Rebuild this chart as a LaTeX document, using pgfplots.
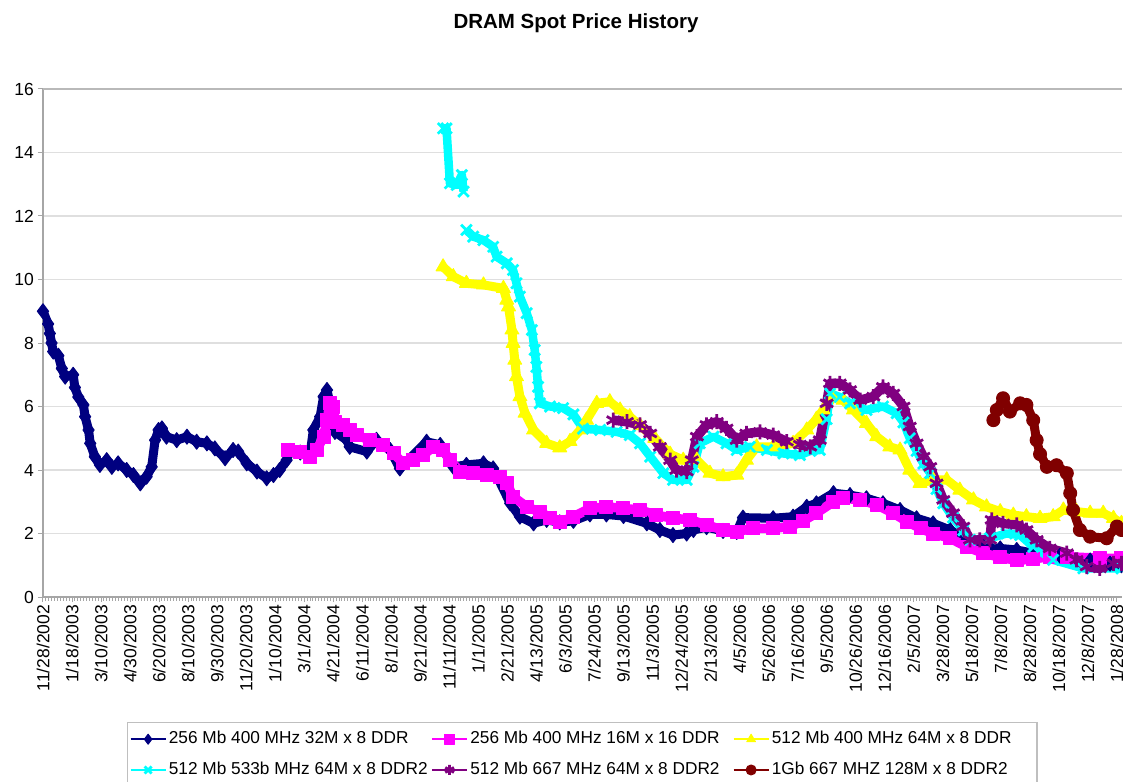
\documentclass[border=0pt]{standalone}
\usepackage{pgfplots}
\pgfplotsset{compat=1.18}
\usepackage{fontspec}
\setmainfont{Liberation Sans}
\definecolor{cNavy}{RGB}{0,0,128}
\definecolor{cMag}{RGB}{255,0,255}
\definecolor{cYel}{RGB}{255,255,0}
\definecolor{cCya}{RGB}{0,255,255}
\definecolor{cPur}{RGB}{128,0,128}
\definecolor{cBro}{RGB}{128,0,0}
\begin{document}
\begin{tikzpicture}
\path[use as bounding box] (-17.2pt,-74pt) rectangle (432pt,238.8pt);
\begin{axis}[
  scale only axis, width=431.6pt, height=203.2pt,
  xmin=0, xmax=1896, ymin=0, ymax=16,
  ytick={0,2,4,6,8,10,12,14,16},
  xtick={0,51,102,153,204,255,306,357,408,459,510,561,612,663,714,765,816,867,918,969,1020,1071,1122,1173,1224,1275,1326,1377,1428,1479,1530,1581,1632,1683,1734,1785,1836,1887},
  xticklabels={11/28/2002,1/18/2003,3/10/2003,4/30/2003,6/20/2003,8/10/2003,9/30/2003,11/20/2003,1/10/2004,3/1/2004,4/21/2004,6/11/2004,8/1/2004,9/21/2004,11/11/2004,1/1/2005,2/21/2005,4/13/2005,6/3/2005,7/24/2005,9/13/2005,11/3/2005,12/24/2005,2/13/2006,4/5/2006,5/26/2006,7/16/2006,9/5/2006,10/26/2006,12/16/2006,2/5/2007,3/28/2007,5/18/2007,7/8/2007,8/28/2007,10/18/2007,12/8/2007,1/28/2008},
  minor x tick num=9,
  axis x line*=bottom, axis y line*=left,
  axis line style={gray!70, line width=1pt},
  ymajorgrids, grid style={gray!25, line width=0.6pt},
  extra y ticks={16}, extra y tick labels={},
  extra y tick style={grid style={gray!55, line width=0.8pt}},
  tick align=outside, major tick length=2pt, minor tick length=1.5pt,
  every tick/.style={gray!70, line width=0.4pt},
  tick label style={font=\fontsize{7}{8}\selectfont},
  xticklabel style={rotate=90, anchor=east, inner sep=1pt},
  yticklabel style={inner sep=1.5pt},
  /pgf/number format/assume math mode=true,
  unbounded coords=jump,
  title={DRAM Spot Price History},
  title style={at={(0.5,1)}, anchor=center, yshift=20.4pt, xshift=-2.6pt, font=\bfseries\fontsize{8.2}{10}\selectfont},
  legend columns=3,
  legend style={at={(0.0776,-0.2455)}, anchor=north west, draw=gray!50, line width=0.5pt,
    font=\fontsize{6.9}{8}\selectfont, inner xsep=1pt, inner ysep=2.5pt, row sep=3.8pt,
    nodes={inner sep=1pt, text height=5pt, text depth=1.5pt}},
  legend image code/.code={\draw[mark repeat=2,mark phase=2] plot coordinates {(0pt,0pt) (7pt,0pt) (14pt,0pt)};},
  legend image post style={line width=0.6pt, mark size=2pt},
  legend cell align=left,
]
\addplot[cNavy, line width=3.6pt, line join=round, mark=diamond*, mark size=3pt, mark options={solid, line width=0.4pt, fill=cNavy}] coordinates {
(0,9.0)(9,8.6)(12,8.3)(15,8.0)(18,7.73)(27,7.6)(33,7.2)(39,6.94)(53,7.0)(56,6.6)(62,6.3)(71,6.05)(74,5.68)(80,5.26)(83,4.84)(91,4.42)(100,4.16)(112,4.31)(121,4.1)(132,4.21)(147,4.0)(159,3.84)(171,3.58)(182,3.79)(191,4.1)(197,4.94)(203,5.26)(209,5.31)(217,5.05)(235,4.94)(253,5.05)(270,4.89)(288,4.84)(302,4.68)(320,4.37)(334,4.63)(343,4.58)(358,4.21)(376,3.95)(393,3.74)(405,3.84)(416,4.0)(428,4.31)(434,4.6)(452,4.55)(469,4.45)(475,5.26)(487,5.68)(493,6.31)(499,6.52)(504,6.1)(513,5.2)(534,4.94)(539,4.73)(569,4.58)(586,4.95)(610,4.63)(627,4.05)(674,4.89)(698,4.79)(721,4.1)(744,4.16)(774,4.21)(791,4.05)(821,2.95)(838,2.53)(862,2.32)(885,2.43)(908,2.35)(932,2.4)(961,2.6)(990,2.6)(1020,2.55)(1061,2.32)(1084,2.11)(1107,1.95)(1131,2.0)(1143,2.11)(1166,2.2)(1195,2.08)(1219,2.05)(1230,2.5)(1283,2.48)(1318,2.53)(1342,2.84)(1359,2.95)(1389,3.27)(1418,3.21)(1447,3.11)(1476,2.95)(1506,2.74)(1535,2.48)(1564,2.32)(1594,2.11)(1623,1.8)(1652,1.58)(1682,1.53)(1711,1.48)(1740,1.38)(1787,1.3)(1840,1.15)(1875,1.05)(1895,1.0)
};
\addplot[cMag, line width=3.8pt, line join=round, mark=square*, mark size=2.6pt, mark options={solid, line width=0.4pt, fill=cMag}] coordinates {
(431,4.63)(452,4.58)(469,4.42)(481,4.63)(493,5.05)(499,5.57)(504,6.1)(510,6.0)(513,5.52)(528,5.42)(539,5.26)(551,5.1)(575,4.94)(598,4.79)(616,4.52)(633,4.21)(651,4.31)(668,4.47)(686,4.73)(703,4.63)(715,4.31)(733,3.95)(756,3.9)(780,3.84)(803,3.79)(815,3.58)(826,3.16)(850,2.84)(873,2.68)(891,2.5)(908,2.35)(932,2.53)(961,2.79)(990,2.84)(1020,2.79)(1049,2.74)(1078,2.58)(1107,2.48)(1137,2.43)(1166,2.27)(1195,2.11)(1219,2.06)(1248,2.16)(1283,2.16)(1313,2.22)(1336,2.4)(1359,2.64)(1389,3.0)(1406,3.11)(1436,3.06)(1465,2.9)(1494,2.64)(1519,2.37)(1542,2.16)(1564,2.0)(1594,1.85)(1623,1.58)(1652,1.38)(1682,1.25)(1711,1.15)(1740,1.2)(1769,1.27)(1799,1.27)(1857,1.22)(1895,1.22)
};
\addplot[cYel, line width=3.6pt, line join=round, mark=triangle*, mark size=3.2pt, mark options={solid, line width=0.4pt, fill=cYel}] coordinates {
(703,10.4)(721,10.09)(744,9.88)(774,9.83)(809,9.72)(815,9.35)(818,9.14)(824,8.41)(826,7.99)(829,7.46)(832,6.94)(838,6.31)(847,5.79)(862,5.26)(885,4.84)(908,4.7)(926,4.9)(944,5.26)(955,5.57)(973,6.1)(996,6.15)(1014,5.89)(1031,5.68)(1049,5.4)(1075,5.0)(1102,4.5)(1125,4.31)(1149,4.31)(1172,3.9)(1195,3.79)(1219,3.84)(1236,4.31)(1254,4.73)(1283,4.73)(1318,4.84)(1342,5.26)(1359,5.6)(1371,5.89)(1389,6.31)(1406,6.2)(1424,5.89)(1447,5.47)(1465,5.05)(1488,4.73)(1506,4.63)(1523,4.0)(1541,3.58)(1564,3.69)(1588,3.69)(1611,3.37)(1635,3.06)(1658,2.84)(1682,2.69)(1705,2.58)(1728,2.53)(1752,2.48)(1775,2.53)(1793,2.74)(1816,2.69)(1840,2.64)(1863,2.64)(1881,2.48)(1895,2.32)
};
\addplot[cCya, line width=3.4pt, line join=round, mark=x, mark size=3pt, mark options={solid, line width=1.1pt}] coordinates {
(703,14.76)(709,14.76)(715,13.03)(727,12.98)(736,13.29)(739,12.77)(741,nan)(744,11.56)(756,11.35)(774,11.24)(791,11.03)(797,10.72)(815,10.51)(826,10.3)(832,9.88)(838,9.46)(850,8.94)(859,8.41)(864,7.78)(867,7.25)(870,6.62)(873,6.1)(891,6.0)(914,5.95)(932,5.75)(949,5.3)(979,5.26)(1008,5.2)(1031,5.1)(1049,4.84)(1067,4.42)(1090,3.9)(1107,3.69)(1131,3.69)(1143,4.1)(1154,4.84)(1178,5.05)(1201,4.84)(1219,4.63)(1242,4.73)(1272,4.63)(1301,4.52)(1330,4.47)(1348,4.6)(1365,4.63)(1377,5.6)(1383,6.41)(1400,6.3)(1418,6.1)(1447,5.89)(1476,6.0)(1500,5.79)(1512,5.5)(1523,5.0)(1535,4.6)(1547,4.2)(1559,3.9)(1570,3.4)(1582,2.95)(1599,2.5)(1617,2.1)(1629,1.8)(1664,1.85)(1693,2.0)(1717,1.95)(1740,1.58)(1775,1.17)(1828,0.9)(1895,0.9)
};
\addplot[cPur, line width=3.8pt, line join=round, mark=asterisk, mark size=3pt, mark options={solid, line width=1.1pt}] coordinates {
(1002,5.57)(1026,5.52)(1049,5.42)(1067,5.15)(1084,4.73)(1102,4.31)(1113,4.0)(1131,3.95)(1140,4.31)(1149,5.05)(1166,5.42)(1184,5.52)(1201,5.31)(1219,4.94)(1236,5.15)(1260,5.2)(1283,5.1)(1307,4.89)(1330,4.8)(1348,4.73)(1365,4.94)(1377,6.1)(1383,6.73)(1400,6.73)(1418,6.52)(1436,6.2)(1459,6.31)(1476,6.62)(1494,6.41)(1512,6.0)(1523,5.37)(1535,4.84)(1547,4.42)(1559,4.1)(1570,3.58)(1582,3.06)(1599,2.64)(1617,2.22)(1629,1.8)(1646,1.8)(1664,1.8)(1667,2.43)(1687,2.32)(1711,2.27)(1728,2.11)(1746,1.8)(1769,1.53)(1799,1.38)(1816,1.17)(1834,0.96)(1857,0.9)(1881,1.06)(1895,1.06)
};
\addplot[cBro, line width=3.6pt, line join=round, mark=*, mark size=2.6pt, mark options={solid, line width=0.4pt, fill=cBro}] coordinates {
(1670,5.57)(1676,5.89)(1687,6.26)(1699,5.84)(1717,6.1)(1728,6.05)(1740,5.57)(1746,4.94)(1752,4.5)(1764,4.1)(1781,4.15)(1799,3.9)(1805,3.27)(1810,2.74)(1822,2.11)(1840,1.9)(1869,1.85)(1887,2.22)(1895,2.11)
};
\legend{\makebox[104pt][l]{256 Mb 400 MHz 32M x 8 DDR},\makebox[104pt][l]{256 Mb 400 MHz 16M x 16 DDR},\makebox[104pt][l]{512 Mb 400 MHz 64M x 8 DDR},\makebox[104pt][l]{512 Mb 533b MHz 64M x 8 DDR2},\makebox[104pt][l]{512 Mb 667 MHz 64M x 8 DDR2},\makebox[104pt][l]{1Gb 667 MHZ 128M x 8 DDR2}}
\end{axis}
\end{tikzpicture}
\end{document}
